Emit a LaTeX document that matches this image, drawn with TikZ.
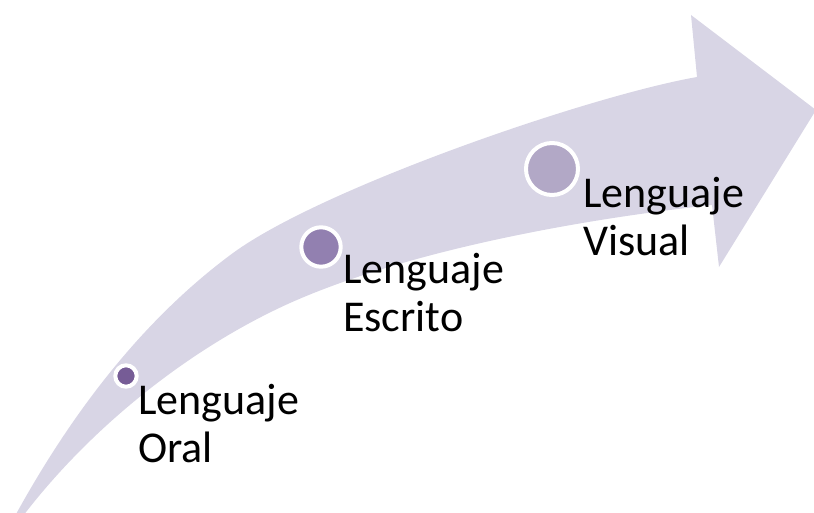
\documentclass[tikz,border=0pt]{standalone}
\usepackage{fontspec}
\setmainfont{Carlito}
\usetikzlibrary{positioning}
\definecolor{arrowfill}{HTML}{D8D5E5}
\definecolor{dotone}{HTML}{765C96}
\definecolor{dottwo}{HTML}{9280B0}
\definecolor{dotthree}{HTML}{B2A8C6}

\begin{document}
\begin{tikzpicture}[
    x=1pt, y=-1pt,
    every node/.style={inner sep=0pt},
    dot/.style={circle, draw=white, line width=4pt},
    caption/.style={anchor=base west, align=left, font=\fontsize{44}{48}\selectfont}]

    \useasboundingbox (0,0) rectangle (814,513);
    \clip (0,0) rectangle (814,513);

    % curved arrow
    \fill[arrowfill] (15,516) .. controls (71,414) and (142,320) .. (233,253)
        .. controls (322,188) and (589,96) .. (697,77)
        -- (691,15) -- (816,110) -- (719,267) -- (712,205)
        .. controls (583,219) and (409,250) .. (290,303)
        .. controls (190,348) and (91,427) .. (23,516) -- cycle;

    % steps
    \node[dot, fill=dotone, minimum size=21.4pt] (oral) at (126,376) {};
    \node[dot, fill=dottwo, minimum size=39.4pt] (escrito) at (321,247) {};
    \node[dot, fill=dotthree, minimum size=52pt] (visual) at (552,169) {};

    \node[caption] (oraltext) at (138,462) {Lenguaje\\Oral};
    \node[caption] (escritotext) at (343,331) {Lenguaje\\Escrito};
    \node[caption] (visualtext) at (583,255) {Lenguaje\\Visual};

\end{tikzpicture}
\end{document}
